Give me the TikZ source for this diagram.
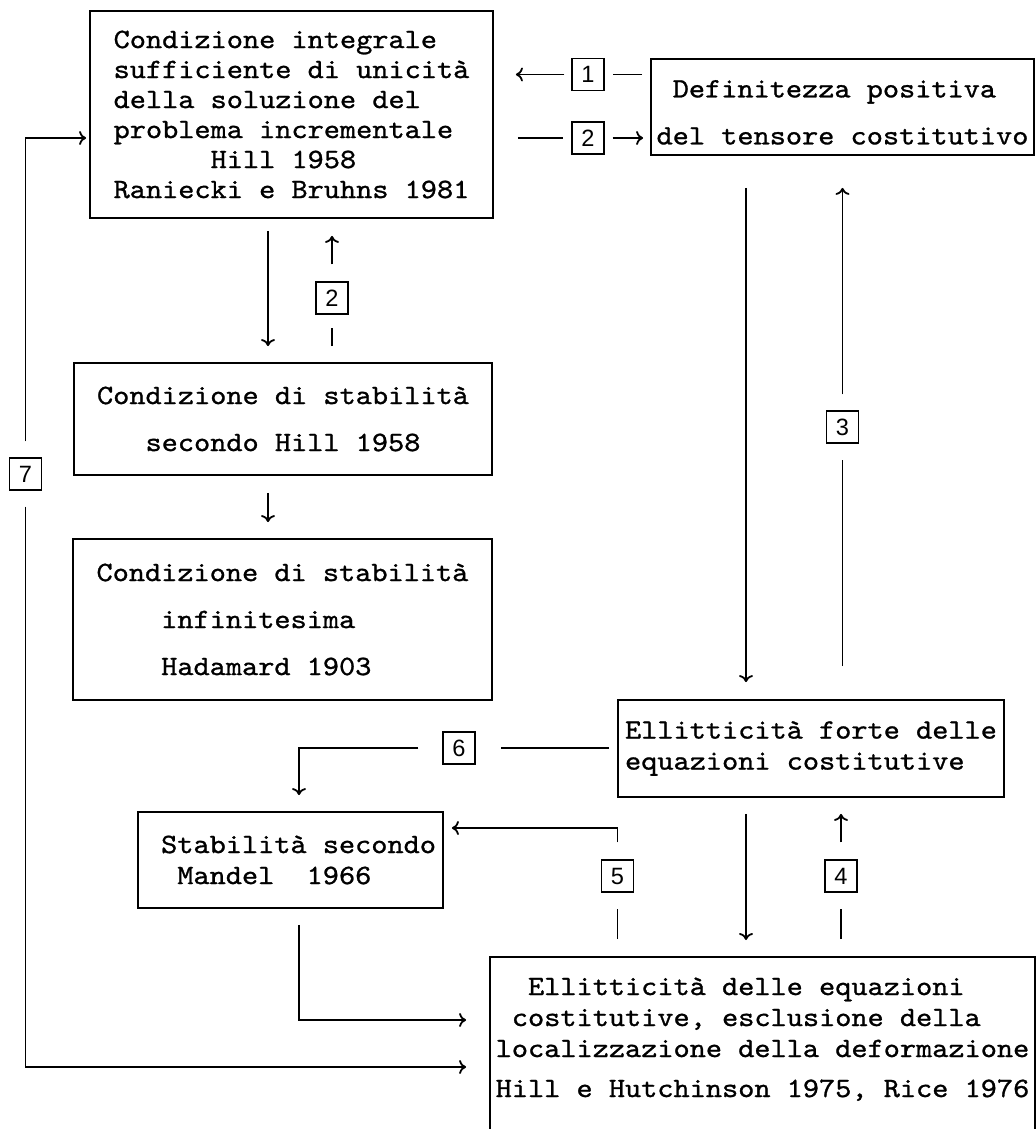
\documentclass[tikz,border=0pt]{standalone}
\usepackage{fontspec}
\newfontfamily\boxfont[Extension=.otf,FakeStretch=1.1,FakeBold=1]{lmmono10-regular}
\newfontfamily\numfont{Liberation Sans}
\usetikzlibrary{arrows.meta}
\newcommand{\ind}[1]{\hspace*{#1\dimexpr8.085pt\relax}}

\tikzset{
  box/.style={draw, align=left, inner sep=0pt,
    font=\boxfont\fontsize{14pt}{15.5pt}\selectfont},
  num/.style={draw, line width=0.7pt, minimum size=16pt, inner sep=0pt,
    font=\numfont\fontsize{11.8pt}{12pt}\selectfont}
}

\begin{document}
\begin{tikzpicture}[x=0.5pt,y=-0.5pt,line width=0.9pt,>={To[length=3.5pt,width=7pt]}]
  \useasboundingbox (0,0) rectangle (1036,1129);
  \clip (0,0) rectangle (1036,1129);

  \node (cond)   at (291.5,114.5) [box, minimum width=201.5pt, minimum height=103.5pt,
                                   font=\boxfont\fontsize{14pt}{15pt}\selectfont]
    {Condizione integrale\\sufficiente di unicità\\della soluzione del\\
     problema incrementale\\\ind{6}Hill 1958\\Raniecki e Bruhns 1981};
  \node (defin)  at (842.5,107)   [box, minimum width=191.5pt, minimum height=48pt]
    {\rule{0pt}{14pt}\ind{1}Definitezza positiva\\[8pt]del tensore costitutivo};
  \node (hill)   at (283,419)     [box, minimum width=209pt, minimum height=56pt]
    {Condizione di stabilità\\[8pt]\ind{3}secondo Hill 1958};
  \node (hadam)  at (282.5,619.5) [box, minimum width=209.5pt, minimum height=80.5pt]
    {Condizione di stabilità\\[8pt]\ind{4}infinitesima\\[8pt]\ind{4}Hadamard 1903};
  \node (forte)  at (811,748.5)   [box, minimum width=193pt, minimum height=48.5pt]
    {Ellitticità forte delle\\equazioni costitutive};
  \node (mandel) at (290.5,860)   [box, minimum width=152.5pt, minimum height=48pt]
    {\ind{1}Stabilità secondo\\\ind{2}Mandel~~1966};
  \node (local)  at (762.5,956)   [box, anchor=north, minimum width=272.5pt, inner ysep=10.35pt]
    {\ind{2}Ellitticità delle equazioni\\\ind{1}costitutive, esclusione della\\
     localizzazione della deformazione\\[4.5pt]
     Hill e Hutchinson 1975, Rice 1976\rule[-14pt]{0pt}{14pt}};

  \node (n1)  at (588,74.5)  [num] {1};
  \node (n2a) at (588,138)   [num] {2};
  \node (n2b) at (332,298)   [num] {2};
  \node (n3)  at (842.5,427) [num] {3};
  \node (n4)  at (841,876)   [num] {4};
  \node (n5)  at (617.5,876) [num] {5};
  \node (n6)  at (459,748)   [num] {6};
  \node (n7)  at (25.5,474)  [num] {7};

  \coordinate (colA) at (268,0);
  \coordinate (colB) at (746,0);
  \coordinate (colD) at (299,0);
  \coordinate (row5) at (0,828);
  \coordinate (rowD) at (0,1020);
  \coordinate (row7) at (0,1067);

  % 1 and 2, top
  \draw[shorten <=4pt, shorten >=4pt] (defin.west |- n1) -- (n1);
  \draw[->, shorten <=3.5pt, shorten >=11pt] (n1) -- (cond.east |- n1);
  \draw[shorten <=12pt, shorten >=4pt] (cond.east |- n2a) -- (n2a);
  \draw[->, shorten <=4pt, shorten >=3.5pt] (n2a) -- (defin.west |- n2a);

  % left column
  \draw[->, shorten <=6pt, shorten >=8pt] (cond.south -| colA) -- (hill.north -| colA);
  \draw[->, shorten <=8.5pt, shorten >=8.5pt] (n2b) -- (cond.south -| n2b);
  \draw[shorten <=8pt, shorten >=6.5pt] (hill.north -| n2b) -- (n2b);
  \draw[->, shorten <=8.5pt, shorten >=8pt] (hill.south -| colA) -- (hadam.north -| colA);

  % 3
  \draw[->, shorten <=16pt, shorten >=8.5pt] (defin.south -| colB) -- (forte.north -| colB);
  \draw[->, shorten <=8pt, shorten >=16pt] (n3) -- (defin.south -| n3);
  \draw[shorten <=16.5pt, shorten >=8pt] (forte.north -| n3) -- (n3);

  % 4
  \draw[->, shorten <=8pt, shorten >=8pt] (forte.south -| colB) -- (local.north -| colB);
  \draw[->, shorten <=8.5pt, shorten >=8pt] (n4) -- (forte.south -| n4);
  \draw[shorten <=8.5pt, shorten >=8pt] (local.north -| n4) -- (n4);

  % 5
  \draw[shorten <=8.5pt, shorten >=8pt] (local.north -| n5) -- (n5);
  \draw[->, shorten <=8.5pt, shorten >=4pt] (n5) |- (mandel.east |- row5);

  % 6
  \draw[shorten <=4pt, shorten >=12.5pt] (forte.west |- n6) -- (n6);
  \draw[->, shorten <=12pt, shorten >=8pt] (n6) -| (mandel.north -| colD);
  \draw[->, shorten <=8pt, shorten >=11.5pt] (mandel.south -| colD) |- (local.west |- rowD);

  % 7
  \draw[->, shorten <=8pt, shorten >=1.5pt] (n7) |- (cond.west |- n2a);
  \draw[->, shorten <=8pt, shorten >=11.5pt] (n7) |- (local.west |- row7);
\end{tikzpicture}
\end{document}
